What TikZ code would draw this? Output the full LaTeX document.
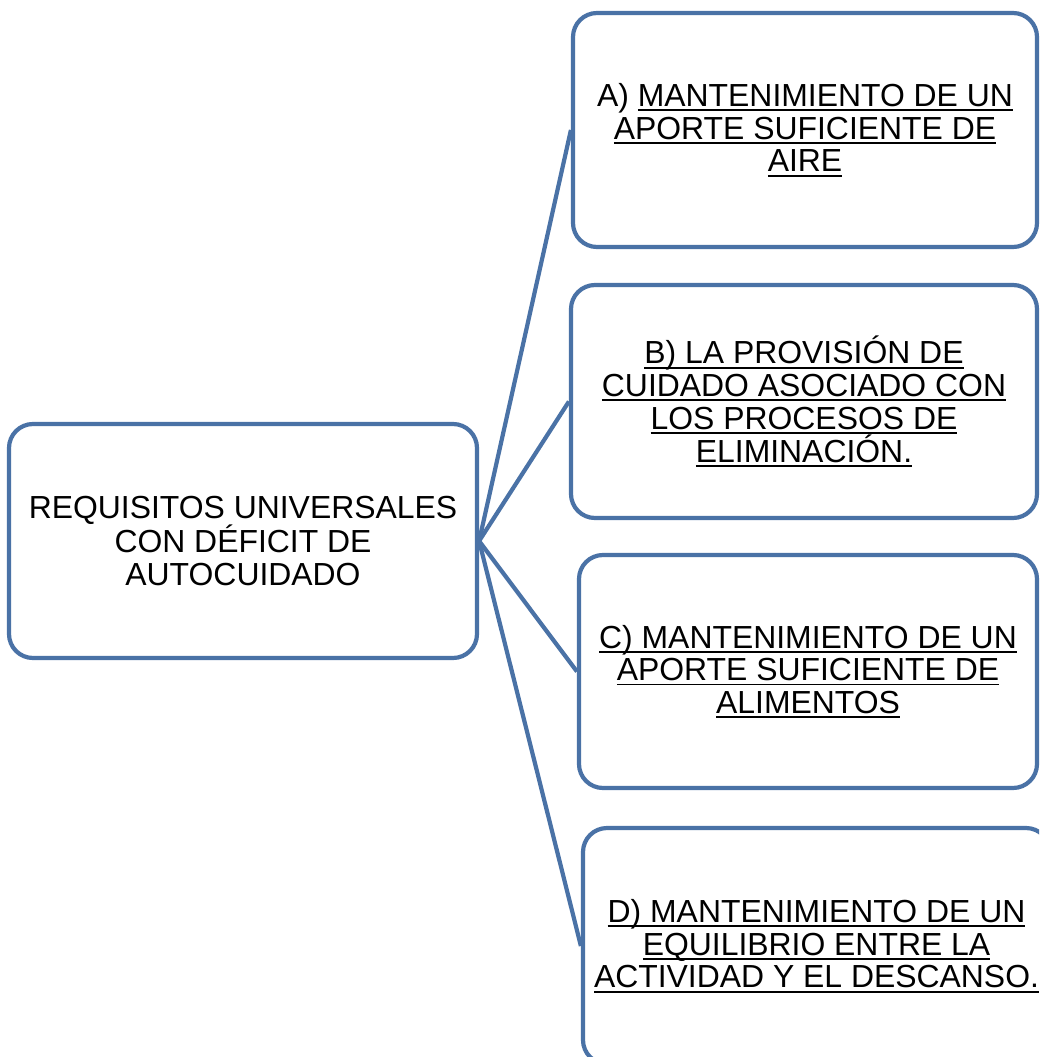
\documentclass[tikz,border=0pt]{standalone}
\usepackage{fontspec}
\setmainfont{Liberation Sans}
\newcommand\myul[1]{\setbox0\hbox{#1}\rlap{\rule[-4.6pt]{\wd0}{1.8pt}}\box0}
\definecolor{boxblue}{HTML}{4A72A6}
\begin{document}
\begin{tikzpicture}[x=1pt,y=-1pt,
  box/.style={draw=boxblue,line width=4.2pt,fill=white,rounded corners=24pt,
    inner sep=0pt,align=center,font=\fontsize{31.9}{32.7}\selectfont},
  link/.style={draw=boxblue,line width=4.2pt}]
\useasboundingbox (0,0) rectangle (1039,1057);
\clip (0,0) rectangle (1039,1057);
\node[box,minimum width=468pt,minimum height=234pt] (L) at (243,541)
  {REQUISITOS UNIVERSALES\\CON DÉFICIT DE\\AUTOCUIDADO};
\node[box,minimum width=464pt,minimum height=234pt] (A) at (805,130)
  {A) \myul{MANTENIMIENTO DE UN}\\\myul{APORTE SUFICIENTE DE}\\\myul{AIRE}};
\node[box,minimum width=466pt,minimum height=233pt] (B) at (804,401.5)
  {\myul{B) LA PROVISIÓN DE}\\\myul{CUIDADO ASOCIADO CON}\\\myul{LOS PROCESOS DE}\\\myul{ELIMINACIÓN.}};
\node[box,minimum width=458pt,minimum height=233pt] (C) at (808,671.5)
  {\myul{C) MANTENIMIENTO DE UN}\\\myul{APORTE SUFICIENTE DE}\\\myul{ALIMENTOS}};
\node[box,minimum width=467pt,minimum height=236pt] (D) at (816.5,946)
  {\myul{D) MANTENIMIENTO DE UN}\\\myul{EQUILIBRIO ENTRE LA}\\\myul{ACTIVIDAD Y EL DESCANSO.}};
\draw[link] (L.east) -- (A.west);
\draw[link] (L.east) -- (B.west);
\draw[link] (L.east) -- (C.west);
\draw[link] (L.east) -- (D.west);
\end{tikzpicture}
\end{document}
